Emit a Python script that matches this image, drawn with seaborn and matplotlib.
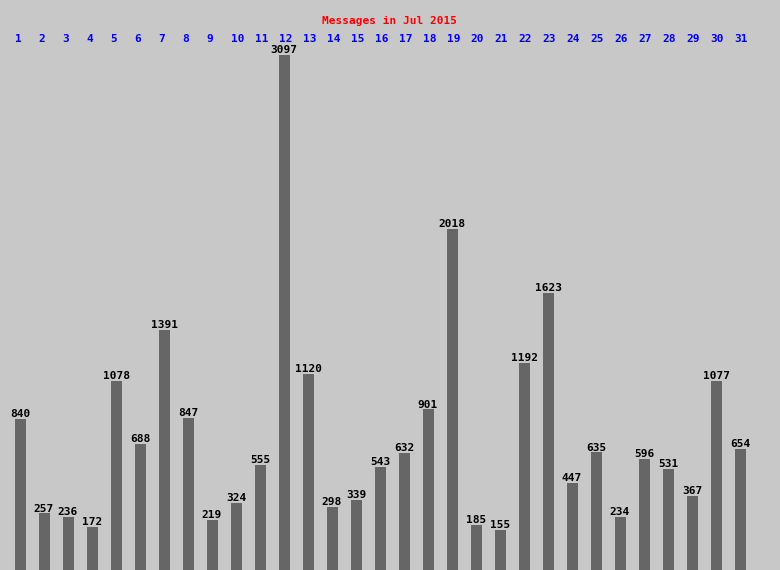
import numpy as np
import matplotlib
matplotlib.use("Agg")
import matplotlib.pyplot as plt
import matplotlib.transforms as mtransforms
import seaborn as sns

# daily message counts, July 2015
days = [str(d) for d in range(1, 32)]
messages = [840, 257, 236, 172, 1078, 688, 1391, 847, 219, 324, 555, 3097,
            1120, 298, 339, 543, 632, 901, 2018, 185, 155, 1192, 1623, 447,
            635, 234, 596, 531, 367, 1077, 654]
title = "Messages in Jul 2015"

BG = "#c8c8c8"
BAR = "#666666"
FONT = "DejaVu Sans Mono"
BAR_W = 11 / 24

# the original chart gives every bar a small floor height on top of the value
OFFSET = 93


def fwd(v):
    v = np.asarray(v, dtype=float)
    return np.where(v > 0, v + OFFSET, v)


def inv(u):
    u = np.asarray(u, dtype=float)
    return np.where(u > OFFSET, u - OFFSET, np.minimum(u, 0))


sns.set_theme(style="white")
plt.rcParams["font.family"] = [FONT, "DejaVu Sans"]

fig = plt.figure(figsize=(7.8, 5.7), dpi=100, facecolor=BG)
ax = fig.add_axes([0, 0, 1, 1])
ax.set_facecolor(BG)

sns.barplot(x=days, y=messages, color=BAR, saturation=1, width=BAR_W,
            errorbar=None, linewidth=0, ax=ax)

ax.set_yscale("function", functions=(fwd, inv))
ax.set_ylim(0, 3437)
ax.set_xlim(-20 / 24, 760 / 24)
ax.axis("off")

# value labels above bars
for i, v in enumerate(messages):
    ax.annotate(str(v), xy=(i, v), xytext=(0, 1.4), textcoords="offset points",
                ha="center", va="baseline", fontsize=8, fontweight="bold",
                color="black", annotation_clip=False)

# day numbers along the top
trans = mtransforms.blended_transform_factory(ax.transData, ax.transAxes)
for i, d in enumerate(days):
    ax.text(i - BAR_W / 2, 1 - 41.5 / 570, d, transform=trans, ha="left",
            va="baseline", fontsize=8, fontweight="bold", color="#0000ff")

fig.text(0.5, 1 - 24.5 / 570, title, ha="center", va="baseline",
         fontsize=8, fontweight="bold", color="#ff0000")

fig.savefig("out.png", dpi=100, facecolor=BG)
